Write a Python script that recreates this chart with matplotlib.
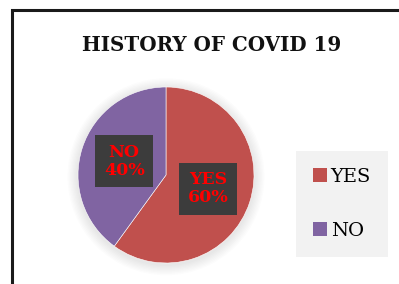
import matplotlib
matplotlib.use("Agg")
import matplotlib.pyplot as plt
from matplotlib.patches import Rectangle, Patch, Circle

# Data
labels = ["YES", "NO"]
values = [60, 40]
colors = ["#C0504D", "#8064A2"]
title = "HISTORY OF COVID 19"

W, H = 399, 284
fig = plt.figure(figsize=(W / 100, H / 100), dpi=100)
fig.patch.set_facecolor("white")

# Outer frame (left and top borders visible)
frame = Rectangle((12 / W, -0.1), 1.2, 1 - 10 / H + 0.1,
                  transform=fig.transFigure, facecolor="white",
                  edgecolor="#1a1a1a", linewidth=2.2, zorder=-5)
fig.patches.append(frame)

# Pie axes: center (166, 175), radius ~88 px
r = 88
cx, cy = 166, 175
ax = fig.add_axes([(cx - 1.2 * r) / W, (H - cy - 1.2 * r) / H,
                   2.4 * r / W, 2.4 * r / H])
ax.set_zorder(2)

# Soft shadow
for i in range(8):
    ax.add_patch(Circle((0, -0.02), 1.0 + 0.015 * (i + 1), color="#000000",
                        alpha=0.012, zorder=0, linewidth=0))

wedges, texts, autotexts = ax.pie(
    values,
    colors=colors,
    startangle=90,
    counterclock=False,
    radius=1.0,
    autopct="%1.0f%%",
    pctdistance=0.5,
    wedgeprops=dict(edgecolor="white", linewidth=0.4),
)
for t, lab in zip(autotexts, labels):
    t.set_text(f"{lab}\n{t.get_text()}")
    t.set_color("#FF0000")
    t.set_fontfamily("DejaVu Serif")
    t.set_fontweight("bold")
    t.set_fontsize(12.5)
    t.set_linespacing(1.05)
    t.set_bbox(dict(facecolor="#3c3c3c", edgecolor="none",
                    boxstyle="square,pad=0.5"))
ax.set_xlim(-1.2, 1.2)
ax.set_ylim(-1.2, 1.2)
ax.set_aspect("equal")
ax.axis("off")

fig.text(212 / W, 1 - 45 / H, title, ha="center", va="center",
         fontsize=14.3, fontweight="bold", family="DejaVu Serif",
         color="#111111")

handles = [Patch(facecolor=c, edgecolor="none") for c in colors]
leg = fig.legend(handles, labels, loc="center",
                 bbox_to_anchor=(342 / W, 1 - 204 / H),
                 frameon=True, fancybox=False,
                 prop=dict(family="DejaVu Serif", size=14),
                 handlelength=0.7, handleheight=0.7, handletextpad=0.2,
                 labelspacing=1.85, borderpad=0.9, borderaxespad=0)
leg.get_frame().set_facecolor("#F2F2F2")
leg.get_frame().set_edgecolor("none")
leg.get_frame().set_alpha(1)

fig.savefig("out.png", dpi=100)
